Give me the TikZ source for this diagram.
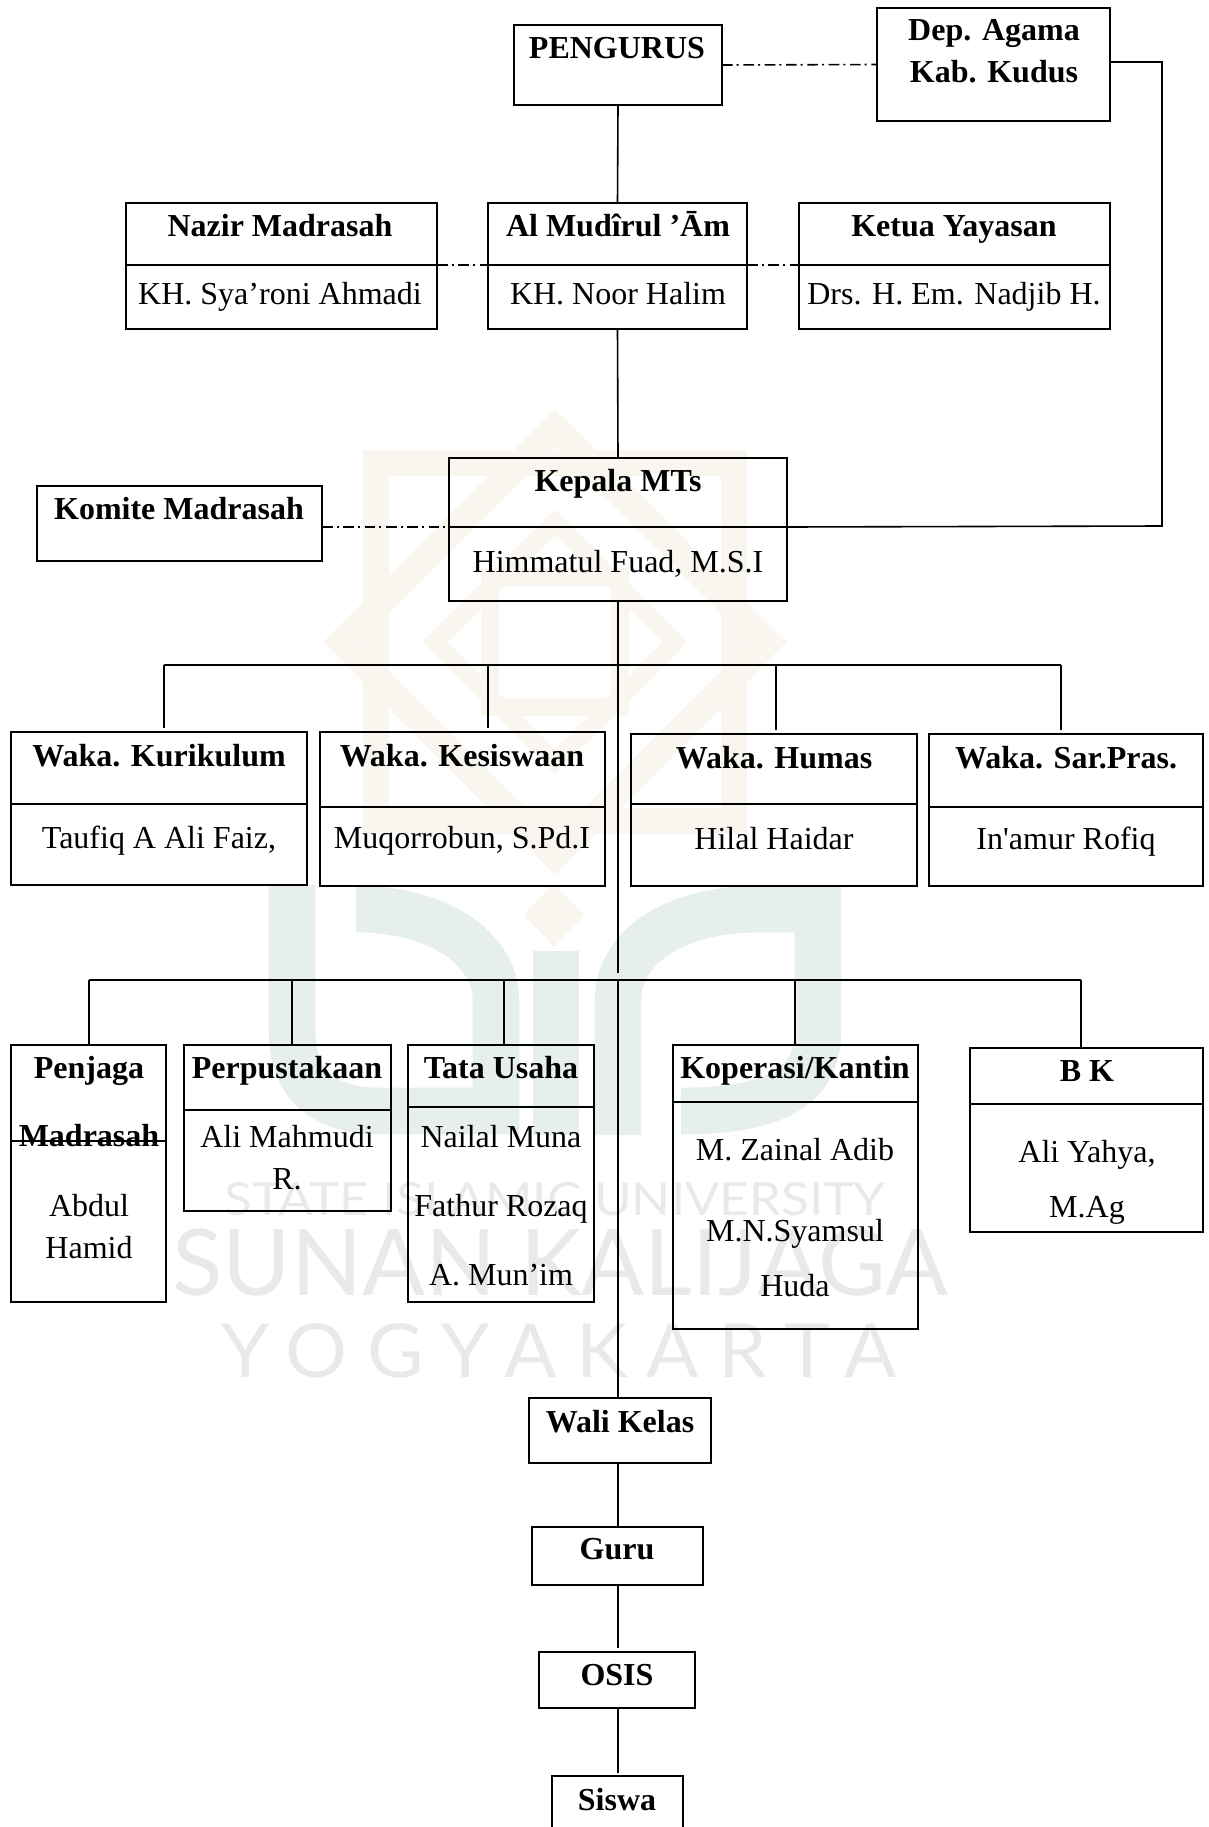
\documentclass[tikz,border=0pt]{standalone}
\usepackage{fontspec}
\setmainfont{Liberation Serif}
\newfontfamily\markfont{Lato}
\newfontfamily\markwide[LetterSpace=25]{Lato}
\usepackage{xcolor}
\definecolor{markgrey}{RGB}{233,233,233}
\definecolor{markbeige}{RGB}{248,246,238}
\definecolor{markgreen}{RGB}{230,239,236}
\usepackage{tikz}
\tikzset{
    common/.style={draw, rectangle, inner sep=0pt, outer sep=0pt, line width=1.2pt},
    orgbox/.style={common},
    title/.style={anchor=base, inner sep=0pt, font=\fontsize{24}{28}\selectfont\bfseries},
    person/.style={anchor=base, inner sep=0pt, font=\fontsize{24}{28}\selectfont},
    line/.style={line width=1.2pt},
    liaison/.style={line width=1.2pt, dash pattern=on 8pt off 3pt on 1.5pt off 3.5pt},
    ornament/.style={markbeige, line width=20pt, line join=miter},
    letterform/.style={markgreen, line width=35pt},
    marktext/.style={inner sep=0pt, anchor=base west, markgrey}
}
\begin{document}
\begin{tikzpicture}[x=0.75pt, y=-0.75pt]
      \newcommand\cell[5]{
        \pgfmathsetmacro\cellw{(#4-#2)*0.75}
        \pgfmathsetmacro\cellh{(#5-#3)*0.75}
        \node[orgbox, minimum width=\cellw pt, minimum height=\cellh pt] (#1) at ({(#2+#4)/2},{(#3+#5)/2}) {};
      }
      % name, left, top, divider, right, bottom
      \newcommand\split[6]{
        \cell{#1-head}{#2}{#3}{#5}{#4}
        \cell{#1-body}{#2}{#4}{#5}{#6}
      }

      \clip (0,0) rectangle (1208,1827);

      % watermark
      \draw[ornament] (376,463) rectangle (734,821);
      \draw[ornament] (555,428) -- (768,642) -- (555,856) -- (342,642) -- cycle;
      \draw[ornament, line width=13pt] (435,642) -- (555,522) -- (675,642) -- (555,762) -- cycle;
      \draw[ornament, line width=13pt] (490,577) rectangle (620,707);
      \fill[markbeige] (554,883) -- (584,915) -- (554,947) -- (524,915) -- cycle;
      \draw[letterform] (292,885) -- (292,1030) .. controls (292,1090) and (330,1111) .. (380,1111) -- (496,1111)
          -- (496,1000) .. controls (496,950) and (440,909) .. (356,909);
      \draw[letterform] (556,951) -- (556,1135);
      \draw[letterform] (618,1135) -- (618,1000) .. controls (618,950) and (670,909) .. (760,909) -- (818,909)
          -- (818,1030) .. controls (818,1090) and (770,1111) .. (681,1111);
      \node[marktext] (mark-state) at (224,1215)
          {\resizebox{495.75pt}{24.75pt}{\markfont STATE ISLAMIC UNIVERSITY}};
      \node[marktext] (mark-sunan) at (172,1295)
          {\resizebox{582pt}{50pt}{\markfont SUNAN KALIJAGA}};
      \node[marktext] (mark-yogya) at (221,1377)
          {\resizebox{506.25pt}{40.5pt}{\markwide YOGYAKARTA}};

      % top of the chart
      \cell{pengurus}{514}{25}{722}{105}
      \cell{depag}{877}{8}{1110}{121}
      \split{nazir}{126}{203}{265}{437}{329}
      \split{mudir}{488}{203}{265}{747}{329}
      \split{ketua}{799}{203}{265}{1110}{329}
      \cell{komite}{37}{486}{322}{561}
      \split{kepala}{449}{458}{527}{787}{601}

      \node[title] (pengurus-t) at (617,59) {PENGURUS};
      \node[title] (depag-t1) at (994,41) {Dep. Agama};
      \node[title] (depag-t2) at (994,83) {Kab. Kudus};
      \node[title] (nazir-t) at (280,236) {Nazir Madrasah};
      \node[person] (nazir-p) at (280,304) {KH. Sya’roni Ahmadi};
      \node[title] (mudir-t) at (618,236) {Al Mudîrul ’Ām};
      \node[person] (mudir-p) at (618,304) {KH. Noor Halim};
      \node[title] (ketua-t) at (954,236) {Ketua Yayasan};
      \node[person] (ketua-p) at (954,304) {Drs. H. Em. Nadjib H.};
      \node[title] (komite-t) at (179,519) {Komite Madrasah};
      \node[title] (kepala-t) at (618,491) {Kepala MTs};
      \node[person] (kepala-p) at (618,572) {Himmatul Fuad, M.S.I};

      % first row
      \split{kurikulum}{11}{732}{804}{307}{885}
      \split{kesiswaan}{320}{732}{807}{605}{886}
      \split{humas}{631}{734}{804}{917}{886}
      \split{sarpras}{929}{734}{807}{1203}{886}

      \node[title] (kurikulum-t) at (159,766) {Waka. Kurikulum};
      \node[person] (kurikulum-p) at (159,848) {Taufiq A Ali Faiz,};
      \node[title] (kesiswaan-t) at (462,766) {Waka. Kesiswaan};
      \node[person] (kesiswaan-p) at (462,848) {Muqorrobun, S.Pd.I};
      \node[title] (humas-t) at (774,768) {Waka. Humas};
      \node[person] (humas-p) at (774,849) {Hilal Haidar};
      \node[title] (sarpras-t) at (1066,768) {Waka. Sar.Pras.};
      \node[person] (sarpras-p) at (1066,849) {In\textquotesingle amur Rofiq};

      % second row
      \split{penjaga}{11}{1045}{1141}{166}{1302}
      \split{perpus}{184}{1045}{1110}{391}{1211}
      \split{tatausaha}{408}{1045}{1107}{594}{1302}
      \split{koperasi}{673}{1045}{1102}{918}{1329}
      \split{bk}{970}{1048}{1104}{1203}{1232}

      \node[title] (penjaga-t1) at (89,1078) {Penjaga};
      \node[title] (penjaga-t2) at (89,1146) {Madrasah};
      \node[person] (penjaga-p1) at (89,1216) {Abdul};
      \node[person] (penjaga-p2) at (89,1258) {Hamid};
      \node[title] (perpus-t) at (287,1078) {Perpustakaan};
      \node[person] (perpus-p1) at (287,1147) {Ali Mahmudi};
      \node[person] (perpus-p2) at (287,1189) {R.};
      \node[title] (tatausaha-t) at (501,1078) {Tata Usaha};
      \node[person] (tatausaha-p1) at (501,1147) {Nailal Muna};
      \node[person] (tatausaha-p2) at (501,1216) {Fathur Rozaq};
      \node[person] (tatausaha-p3) at (501,1285) {A. Mun’im};
      \node[title] (koperasi-t) at (795,1078) {Koperasi/Kantin};
      \node[person] (koperasi-p1) at (795,1160) {M. Zainal Adib};
      \node[person] (koperasi-p2) at (795,1241) {M.N.Syamsul};
      \node[person] (koperasi-p3) at (795,1296) {Huda};
      \node[title] (bk-t) at (1087,1081) {B K};
      \node[person] (bk-p1) at (1087,1162) {Ali Yahya,};
      \node[person] (bk-p2) at (1087,1217) {M.Ag};

      % bottom column
      \cell{wali}{529}{1398}{711}{1463}
      \cell{guru}{532}{1527}{703}{1585}
      \cell{osis}{539}{1652}{695}{1708}
      \cell{siswa}{552}{1776}{683}{1850}

      \node[title] (wali-t) at (620,1432) {Wali Kelas};
      \node[title] (guru-t) at (617,1559) {Guru};
      \node[title] (osis-t) at (617,1685) {OSIS};
      \node[title] (siswa-t) at (617,1810) {Siswa};

      % connectors
      \coordinate (bus-a) at (618,665);
      \coordinate (bus-b) at (618,980);
      \coordinate (rail) at (1162,526);

      \draw[liaison] (pengurus.east) -- (depag.west);
      \draw[liaison] (nazir-head.south east) -- (mudir-head.south west);
      \draw[liaison] (mudir-head.south east) -- (ketua-head.south west);
      \draw[liaison] (komite.east |- kepala-head.south) -- (kepala-head.south west);

      \draw[line] ([yshift=1.9pt]depag.east) -| (rail) -- (kepala-head.south east);
      \draw[line] (pengurus.south) -- (mudir-head.north);
      \draw[line] (mudir-body.south) -- (kepala-head.north);
      \draw[line, shorten >=5] (kepala-body.south) -- (bus-b);

      \draw[line] (164,665) coordinate (bus-a-w) -- (bus-a) -- (1061,665) coordinate (bus-a-e);
      \foreach \bx/\target in {164/kurikulum, 488/kesiswaan, 776/humas, 1061/sarpras} {
        \coordinate (drop-\target) at (\bx,665);
        \draw[line, shorten >=3] (drop-\target) -- (drop-\target |- \target-head.north);
      }

      \draw[line] (89,980) coordinate (bus-b-w) -- (bus-b) -- (1081,980) coordinate (bus-b-e);
      \foreach \bx/\target in {89/penjaga, 292/perpus, 504/tatausaha, 795/koperasi, 1081/bk} {
        \coordinate (drop-\target) at (\bx,980);
        \draw[line] (drop-\target) -- (drop-\target |- \target-head.north);
      }

      \draw[line] (bus-b) -- (bus-b |- wali.north);
      \draw[line] (bus-b |- wali.south) -- (bus-b |- guru.north);
      \draw[line, shorten >=3] (bus-b |- guru.south) -- (bus-b |- osis.north);
      \draw[line, shorten >=2] (bus-b |- osis.south) -- (bus-b |- siswa.north);
\end{tikzpicture}
\end{document}
